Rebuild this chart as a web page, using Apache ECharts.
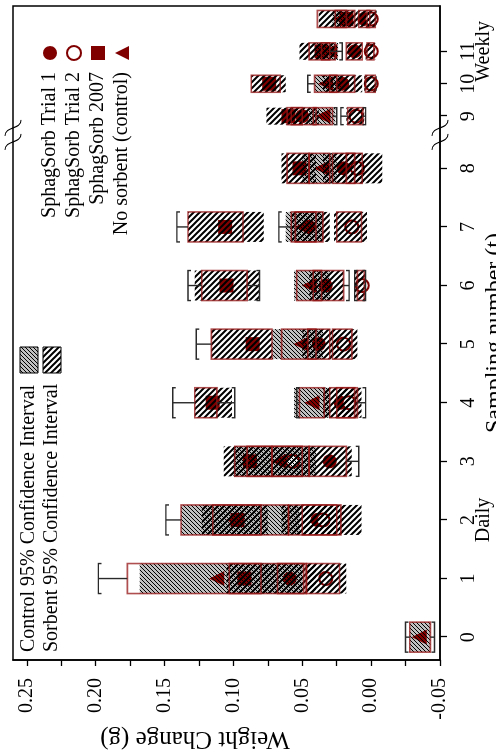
<!DOCTYPE html>
<html>
<head>
<meta charset="utf-8">
<script src="https://cdn.jsdelivr.net/npm/echarts@6/dist/echarts.min.js"></script>
<style>
  html, body { margin: 0; padding: 0; background: #fff; width: 496px; height: 754px; overflow: hidden; }
  /* the plot is laid out landscape and turned a quarter turn anticlockwise */
  #chart { position: absolute; left: 0; top: 0; width: 754px; height: 496px;
           transform-origin: 0 0; transform: translate(0, 754px) rotate(-90deg); }
</style>
</head>
<body>
<div id="chart"></div>
<script>
// Sampling numbers (daily 0-8, weekly 9-12) and their axis labels
const samples = [0, 1, 2, 3, 4, 5, 6, 7, 8, 9, 10, 11, 12];
const sampleLabels = ['0', '1', '2\nDaily', '3', '4', '5', '6', '7', '8', '9', '10', '11\nWeekly', '12'];
const weightTicks = [-0.05, 0.00, 0.05, 0.10, 0.15, 0.20, 0.25];

// rows: [sample, mean, ci95Lo, ci95Hi, boxLo, boxHi, whiskerLo, whiskerHi]   (g)
const control = [
  [0, -0.035, -0.043, -0.028, -0.043, -0.028, -0.046, -0.025],
  [1, 0.112, 0.050, 0.168, 0.049, 0.177, null, 0.198],
  [2, 0.100, 0.052, 0.138, 0.060, 0.138, null, 0.149],
  [3, 0.067, 0.040, 0.100, 0.050, 0.090, null, null],
  [4, 0.043, 0.030, 0.056, 0.034, 0.052, null, 0.054],
  [5, 0.051, 0.035, 0.072, 0.040, 0.065, null, null],
  [6, 0.045, 0.030, 0.056, 0.036, 0.054, null, null],
  [7, 0.050, 0.035, 0.062, 0.040, 0.058, null, 0.067],
  [8, 0.036, 0.025, 0.050, 0.030, 0.045, null, null],
  [9, 0.035, 0.026, 0.045, 0.028, 0.042, 0.025, null],
  [10, 0.033, 0.022, 0.041, 0.025, 0.041, null, 0.046],
  [11, 0.030, 0.024, 0.040, 0.026, 0.036, null, null],
  [12, 0.022, 0.016, 0.028, 0.018, 0.026, null, null]
];
const sorb2007 = [
  [1, 0.092, 0.075, 0.105, 0.080, 0.103, null, null],
  [2, 0.097, 0.075, 0.123, 0.080, 0.115, null, null],
  [3, 0.088, 0.072, 0.107, 0.072, 0.099, null, null],
  [4, 0.115, 0.101, 0.128, 0.112, 0.128, 0.099, 0.144],
  [5, 0.086, 0.072, 0.116, 0.072, 0.116, null, 0.127],
  [6, 0.105, 0.081, 0.128, 0.090, 0.123, 0.081, 0.133],
  [7, 0.106, 0.078, 0.133, 0.093, 0.133, null, 0.141],
  [8, 0.052, 0.040, 0.065, 0.045, 0.061, null, null],
  [9, 0.060, 0.048, 0.076, 0.050, 0.061, null, null],
  [10, 0.074, 0.062, 0.087, 0.066, 0.087, null, null],
  [11, 0.036, 0.026, 0.052, 0.030, 0.045, 0.021, null],
  [12, 0.018, 0.010, 0.038, 0.012, 0.039, null, null]
];
const trial1 = [
  [1, 0.059, 0.040, 0.080, 0.047, 0.068, null, null],
  [2, 0.039, 0.020, 0.065, 0.025, 0.060, null, null],
  [3, 0.030, 0.014, 0.045, 0.018, 0.045, 0.009, null],
  [4, 0.022, 0.010, 0.035, 0.012, 0.030, null, null],
  [5, 0.038, 0.025, 0.050, 0.030, 0.046, null, null],
  [6, 0.033, 0.020, 0.045, 0.020, 0.042, 0.016, null],
  [7, 0.045, 0.030, 0.058, 0.035, 0.055, null, null],
  [8, 0.020, 0.005, 0.035, 0.012, 0.028, null, null],
  [9, 0.050, 0.038, 0.060, 0.040, 0.058, null, null],
  [10, 0.021, 0.0065, 0.035, 0.012, 0.030, null, null],
  [11, 0.012, 0.0065, 0.018, 0.0065, 0.018, null, null],
  [12, 0.005, 0.000, 0.010, 0.001, 0.009, null, null]
];
const trial2 = [
  [1, 0.033, 0.018, 0.047, 0.023, 0.047, null, null],
  [2, 0.035, 0.007, 0.055, 0.022, 0.050, null, null],
  [3, 0.057, 0.045, 0.072, 0.045, 0.072, null, null],
  [4, 0.016, 0.007, 0.026, 0.010, 0.025, 0.004, null],
  [5, 0.020, 0.010, 0.030, 0.014, 0.028, null, null],
  [6, 0.0065, 0.004, 0.012, 0.005, 0.010, 0.004, 0.012],
  [7, 0.014, 0.003, 0.027, 0.007, 0.025, null, null],
  [8, 0.010, -0.008, 0.025, 0.0065, 0.018, null, null],
  [9, 0.011, 0.005, 0.018, 0.006, 0.017, 0.004, 0.022],
  [10, 0.000, -0.004, 0.005, -0.003, 0.004, null, null],
  [11, 0.000, -0.003, 0.004, -0.002, 0.003, null, null],
  [12, 0.000, -0.004, 0.004, -0.003, 0.003, null, null]
];

// ---- broken sampling axis: daily steps of 1, then a gap, then compressed weekly steps
const WEEK_START = 8.89, WEEK_STEP = 0.553, BREAK_AT = 8.57;
function samplePos(t) { return t <= 8 ? t : WEEK_START + (t - 9) * WEEK_STEP; }
function halfWidth(t) { return t <= 8 ? 0.256 : 0.145; }

const MAROON = '#800000';
const BOX_RED = 'rgba(150, 20, 20, 0.75)';
const WHISKER = '#2a2a2a';
const FONT = '"Liberation Serif", "Times New Roman", serif';

// ---- hatch tiles
function hatchTile(size, width, rising) {
  const c = document.createElement('canvas');
  c.width = c.height = size;
  const g = c.getContext('2d');
  g.strokeStyle = '#000';
  g.lineWidth = width;
  g.beginPath();
  for (let k = -1; k <= 1; k++) {
    const o = k * size;
    if (rising) {            // lines running up to the right
      g.moveTo(o - 1, size + 1); g.lineTo(o + size + 1, -1);
    } else {                 // lines running down to the right
      g.moveTo(o - 1, -1); g.lineTo(o + size + 1, size + 1);
    }
  }
  g.stroke();
  return c;
}
const controlHatch = { image: hatchTile(4, 1, true), repeat: 'repeat' };
const sorbentHatch = { image: hatchTile(6, 2, false), repeat: 'repeat' };

// ---- custom series builders
function ciSeries(rows, fill, z) {
  return {
    type: 'custom', z: z, silent: true, clip: true,
    data: rows.map(r => [samplePos(r[0]), r[1]]),
    renderItem(params, api) {
      const r = rows[params.dataIndex];
      const x = samplePos(r[0]), hw = halfWidth(r[0]);
      const a = api.coord([x - hw, r[3]]), b = api.coord([x + hw, r[2]]);
      return { type: 'rect', shape: { x: a[0], y: a[1], width: b[0] - a[0], height: b[1] - a[1] },
               style: { fill: fill } };
    }
  };
}

function boxSeries(rows) {
  return {
    type: 'custom', z: 5, silent: true, clip: true,
    data: rows.map(r => [samplePos(r[0]), r[1]]),
    renderItem(params, api) {
      const r = rows[params.dataIndex];
      const x = samplePos(r[0]), hw = halfWidth(r[0]);
      const a = api.coord([x - hw, r[5]]), b = api.coord([x + hw, r[4]]);
      const kids = [{ type: 'rect', shape: { x: a[0], y: a[1], width: b[0] - a[0], height: b[1] - a[1] },
                      style: { fill: null, stroke: BOX_RED, lineWidth: 1.6 } }];
      const whisker = (from, to) => {
        const p = api.coord([x, from]), q = api.coord([x, to]);
        const l = api.coord([x - hw, to]), rr = api.coord([x + hw, to]);
        const hook = Math.sign(p[1] - q[1]) * 3;
        kids.push({ type: 'line', shape: { x1: p[0], y1: p[1], x2: q[0], y2: q[1] },
                    style: { stroke: WHISKER, lineWidth: 1.4 } });
        kids.push({ type: 'polyline',
                    shape: { points: [[l[0], q[1] + hook], [l[0], q[1]], [rr[0], q[1]], [rr[0], q[1] + hook]] },
                    style: { fill: null, stroke: WHISKER, lineWidth: 1.4 } });
      };
      if (r[7] != null) whisker(r[5], r[7]);
      if (r[6] != null) whisker(r[4], r[6]);
      return { type: 'group', children: kids };
    }
  };
}

function markerSeries(name, rows, symbol, size, extraStyle) {
  return {
    name: name, type: 'scatter', z: 3, silent: true,
    symbol: symbol, symbolSize: size,
    itemStyle: Object.assign({ color: MAROON, opacity: 1 }, extraStyle || {}),
    data: rows.map(r => [samplePos(r[0]), r[1]])
  };
}

const sorbentRows = [].concat(sorb2007, trial1, trial2);
const minorTicks = [];
for (let i = 0; i < weightTicks.length; i++) {
  minorTicks.push(weightTicks[i]);
  if (i < weightTicks.length - 1) minorTicks.push(+((weightTicks[i] + weightTicks[i + 1]) / 2).toFixed(3));
}
const samplePositions = samples.map(samplePos);

const chart = echarts.init(document.getElementById('chart'), null, { renderer: 'canvas', width: 754, height: 496 });
chart.setOption({
  animation: false,
  backgroundColor: '#fff',
  textStyle: { fontFamily: FONT, color: '#000' },
  grid: { left: 94, right: 6, top: 13, bottom: 56, show: true, borderColor: '#000', borderWidth: 1.5,
          containLabel: false, outerBoundsMode: 'none' },
  xAxis: {
    type: 'value', min: -0.39, max: 10.77,
    splitLine: { show: false },
    axisLine: { show: true, onZero: false, lineStyle: { color: '#000', width: 1.6 } },
    axisTick: { show: true, length: 7, customValues: samplePositions, lineStyle: { color: '#000', width: 1.3 } },
    axisLabel: {
      customValues: samplePositions, margin: 21, fontSize: 20, lineHeight: 15, fontFamily: FONT, color: '#000',
      formatter: v => {
        let best = 0;
        samplePositions.forEach((p, i) => { if (Math.abs(p - v) < Math.abs(samplePositions[best] - v)) best = i; });
        return sampleLabels[best];
      }
    },
    name: 'Sampling number (t)', nameLocation: 'middle', nameGap: 43, nameMoveOverlap: false,
    nameTextStyle: { fontSize: 24, fontFamily: FONT, color: '#000' }
  },
  yAxis: {
    type: 'value', min: -0.05, max: 0.26,
    splitLine: { show: false },
    axisLine: { show: true, onZero: false, lineStyle: { color: '#000', width: 1.6 } },
    axisTick: { show: true, length: 6, customValues: minorTicks, lineStyle: { color: '#000', width: 1.3 } },
    axisLabel: { customValues: weightTicks, margin: 18, fontSize: 20, fontFamily: FONT, color: '#000',
                 formatter: v => v.toFixed(2) }
  },
  legend: {
    data: ['SphagSorb Trial 1', 'SphagSorb Trial 2', 'SphagSorb 2007', 'No sorbent (control)'],
    orient: 'vertical', align: 'right', right: 40, top: 35,
    itemWidth: 14, itemHeight: 14, itemGap: 4,
    textStyle: { fontSize: 20, lineHeight: 20, fontFamily: FONT, color: '#000', padding: [0, 7, 0, 0] }
  },
  graphic: [
    { type: 'text', x: 15, y: 195, rotation: Math.PI / 2,
      style: { text: 'Weight Change (g)', font: '25px ' + FONT, fill: '#000', align: 'center', verticalAlign: 'middle' } },
    { type: 'text', x: 102, y: 29,
      style: { text: 'Control 95% Confidence Interval', font: '20px ' + FONT, fill: '#000', align: 'left', verticalAlign: 'middle' } },
    { type: 'text', x: 102, y: 52,
      style: { text: 'Sorbent 95% Confidence Interval', font: '20px ' + FONT, fill: '#000', align: 'left', verticalAlign: 'middle' } },
    { type: 'rect', shape: { x: 381, y: 20, width: 26, height: 18 }, style: { fill: '#c0c0c0' } },
    { type: 'rect', shape: { x: 381, y: 20, width: 26, height: 18 }, style: { fill: controlHatch, stroke: '#000', lineWidth: 1 } },
    { type: 'rect', shape: { x: 381, y: 43, width: 26, height: 18 }, style: { fill: '#fff' } },
    { type: 'rect', shape: { x: 381, y: 43, width: 26, height: 18 }, style: { fill: sorbentHatch, stroke: '#000', lineWidth: 1 } }
  ],
  series: [
    // interval fills: sorbent white first, control grey above
    ciSeries(sorbentRows, '#fff', 1),
    ciSeries(control, '#c0c0c0', 1),
    // mean markers
    markerSeries('No sorbent (control)', control, 'triangle', 15),
    markerSeries('SphagSorb 2007', sorb2007, 'rect', 14),
    markerSeries('SphagSorb Trial 1', trial1, 'circle', 14),
    markerSeries('SphagSorb Trial 2', trial2, 'emptyCircle', 13, { borderWidth: 2.2 }),
    // hatching over the intervals
    ciSeries(sorbentRows, sorbentHatch, 4),
    ciSeries(control, controlHatch, 4),
    // boxes and whiskers
    boxSeries(control),
    boxSeries(sorb2007),
    boxSeries(trial1),
    boxSeries(trial2),
    // break marks between the daily and weekly parts of the axis
    {
      type: 'custom', z: 6, silent: true, clip: false,
      data: [[BREAK_AT, 0]],
      renderItem(params, api) {
        const ends = [api.coord([BREAK_AT, 0.26]), api.coord([BREAK_AT, -0.05])];
        const kids = [];
        ends.forEach(p => {
          [-7, 7].forEach(dx => {
            const cx = p[0] + dx, cy = p[1];
            kids.push({ type: 'bezierCurve',
                        shape: { x1: cx - 8, y1: cy - 8, x2: cx + 8, y2: cy + 8,
                                 cpx1: cx + 2, cpy1: cy - 8, cpx2: cx - 2, cpy2: cy + 8 },
                        style: { stroke: '#000', lineWidth: 1.2, fill: null } });
          });
        });
        return { type: 'group', children: kids };
      }
    }
  ]
});
</script>
</body>
</html>
